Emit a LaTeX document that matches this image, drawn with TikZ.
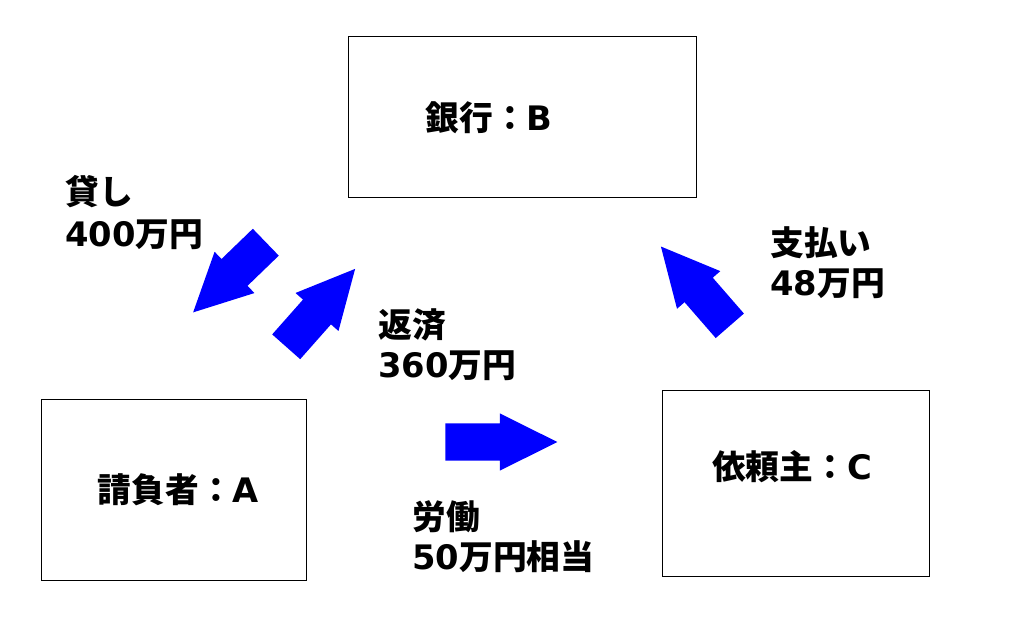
\documentclass[tikz,border=0pt]{standalone}
\usepackage{fontspec}
\setmainfont{DejaVu Sans}
\newfontfamily\jp{Noto Sans CJK JP}
\usetikzlibrary{shapes.arrows}

\begin{document}
\begin{tikzpicture}[x=0.025cm,y=-0.025cm,
	box/.style={draw,line width=0.7pt,inner sep=0pt},
	txt/.style={font=\fontsize{24}{28.5}\selectfont\bfseries,inner sep=0pt},
	money/.style={txt,align=left,anchor=west},
	blockarrow/.style={single arrow,fill=blue,draw=none,inner sep=0.46cm,minimum width=0pt,
		single arrow head extend=0.25cm,single arrow tip angle=53,anchor=tail}]
	\useasboundingbox (0,0) rectangle (1024,640);
	% the three parties
	\node[box,minimum width=8.675cm,minimum height=4cm] (bank) at (522.5,117) {};
	\node[box,minimum width=6.6cm,minimum height=4.5cm] (contractor) at (174,490) {};
	\node[box,minimum width=6.65cm,minimum height=4.625cm] (client) at (796,483.5) {};
	\node[txt] (banktxt) at (489,118) {{\jp 銀行：}B};
	\node[txt] (contractortxt) at (178.5,490) {{\jp 請負者：}A};
	\node[txt] (clienttxt) at (792,467) {{\jp 依頼主：}C};
	% flows
	\node[blockarrow,minimum height=2.525cm,rotate=224] (lend) at (266,242) {};
	\node[blockarrow,minimum height=2.6cm,rotate=48.5] (repay) at (286,347) {};
	\node[blockarrow,minimum height=2.625cm,rotate=131] (pay) at (730,326) {};
	\node[blockarrow,minimum height=2.8cm] (work) at (445,442) {};
	\node[money] (lendtxt) at (65,212.5) {{\jp 貸し}\\[2pt]400{\jp 万円}};
	\node[money] (repaytxt) at (378,345) {{\jp 返済}\\360{\jp 万円}};
	\node[money] (paytxt) at (770,262.5) {{\jp 支払い}\\48{\jp 万円}};
	\node[money] (worktxt) at (412,537) {{\jp 労働}\\50{\jp 万円相当}};
\end{tikzpicture}
\end{document}
